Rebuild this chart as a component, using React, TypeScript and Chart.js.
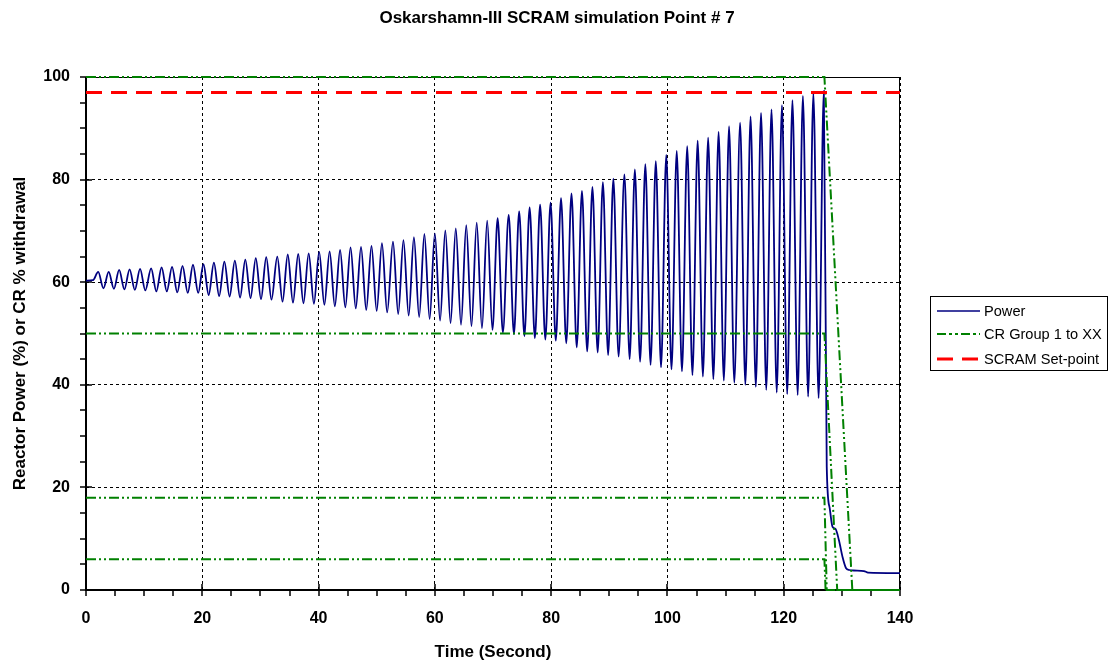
import React, { useEffect, useRef } from "react";
import { Chart, registerables } from "chart.js";

Chart.register(...registerables);

// ---- Power (%) ----
const startTimes = [0, 1.2];
const startValues = [60.3, 60.4];

const peakTimes = [
  2.1, 3.9, 5.7, 7.5, 9.3, 11.2, 13.0, 14.8, 16.6, 18.4, 20.2, 22.0, 23.8, 25.6, 27.4, 29.2, 31.0, 32.9, 34.7, 36.5,
  38.3, 40.1, 41.9, 43.7, 45.5, 47.3, 49.1, 50.9, 52.8, 54.6, 56.4, 58.2, 60.0, 61.8, 63.6, 65.4, 67.2, 69.0, 70.8, 72.7,
  74.5, 76.3, 78.1, 79.9, 81.7, 83.5, 85.3, 87.1, 88.9, 90.7, 92.6, 94.4, 96.2, 98.0, 99.8, 101.6, 103.4, 105.2, 107.0, 108.8,
  110.6, 112.5, 114.3, 116.1, 117.9, 119.7, 121.5, 123.3, 125.1, 126.9,
];
const peakValues = [
  62.0, 62.0, 62.4, 62.5, 62.6, 62.7, 62.9, 63.0, 63.2, 63.4, 63.5, 63.8, 64.0, 64.2, 64.4, 64.7, 64.9, 65.0, 65.4, 65.5,
  65.6, 65.9, 66.0, 66.3, 66.8, 66.9, 67.1, 67.6, 67.9, 68.2, 68.8, 69.4, 69.5, 70.1, 70.5, 71.1, 71.6, 72.0, 72.5, 73.1,
  73.8, 74.6, 75.1, 75.5, 76.4, 77.3, 77.8, 78.6, 79.5, 80.2, 81.0, 82.0, 83.0, 83.6, 84.8, 85.6, 86.5, 87.6, 88.2, 89.3,
  90.4, 91.1, 92.3, 93.0, 93.7, 94.5, 95.5, 96.3, 96.8, 97.3,
];

const troughTimes = [
  3.0, 4.8, 6.6, 8.4, 10.2, 12.1, 13.9, 15.7, 17.5, 19.3, 21.1, 22.9, 24.7, 26.5, 28.3, 30.1, 31.9, 33.8, 35.6, 37.4,
  39.2, 41.0, 42.8, 44.6, 46.4, 48.2, 50.0, 51.8, 53.7, 55.5, 57.3, 59.1, 60.9, 62.7, 64.5, 66.3, 68.1, 69.9, 71.7, 73.6,
  75.4, 77.2, 79.0, 80.8, 82.6, 84.4, 86.2, 88.0, 89.8, 91.6, 93.5, 95.3, 97.1, 98.9, 100.7, 102.5, 104.3, 106.1, 107.9, 109.7,
  111.5, 113.4, 115.2, 117.0, 118.8, 120.6, 122.4, 124.2, 126.0,
];
const troughValues = [
  58.8, 58.7, 58.6, 58.5, 58.4, 58.2, 58.2, 58.0, 57.9, 57.9, 57.5, 57.3, 57.2, 57.0, 56.9, 56.7, 56.6, 56.2, 56.0, 55.9,
  55.8, 55.6, 55.3, 55.1, 54.9, 54.6, 54.4, 54.1, 53.8, 53.5, 53.2, 52.8, 52.5, 52.0, 51.7, 51.4, 51.0, 50.7, 50.2, 49.9,
  49.5, 49.1, 48.8, 48.6, 48.1, 47.3, 46.5, 46.3, 45.8, 45.5, 45.0, 44.5, 43.9, 43.4, 43.0, 42.6, 41.9, 41.6, 41.1, 40.8,
  40.4, 40.0, 39.6, 39.0, 38.5, 38.2, 38.0, 37.7, 37.4,
];

const scramDropTimes = [127.4, 127.9, 128.4, 128.9, 129.5, 130.1, 130.7, 131.3, 132.0, 133.8, 134.5, 140];
const scramDropValues = [24, 16, 12.3, 11.9, 9.7, 6.5, 4.3, 3.9, 3.8, 3.7, 3.4, 3.3];

// ---- Control rod groups (% withdrawal) ----
const crGroupATimes = [0, 127.0, 131.8, 140];
const crGroupAValues = [100, 100, 0, 0];
const crGroupBTimes = [0, 127.0, 129.2, 140];
const crGroupBValues = [50, 50, 0, 0];
const crGroupCTimes = [0, 127.0, 127.4, 140];
const crGroupCValues = [18, 18, 0, 0];
const crGroupDTimes = [0, 127.0, 127.2, 140];
const crGroupDValues = [6, 6, 0, 0];

// ---- SCRAM set-point ----
const setpointTimes = [0, 140];
const setpointValues = [97, 97];

const chartTitle = "Oskarshamn-III SCRAM simulation Point # 7";
const legendLabels = ["Power", "CR Group 1 to XX", "SCRAM Set-point"];

const FONT = "Arial, 'Liberation Sans', Helvetica, sans-serif";
const GREEN_DASH = [10, 3, 2, 3, 2, 3];
const RED_DASH = [16, 9];

const pts = (ts: number[], vs: number[]) => ts.map((t, i) => ({ x: t, y: vs[i] }));

const framePlugin: any = {
  id: "framePlugin",
  beforeDatasetsDraw(chart: any) {
    const { ctx, chartArea: a, scales } = chart;
    const xs = scales.x;
    const ys = scales.y;
    ctx.save();
    ctx.setLineDash([]);
    ctx.strokeStyle = "#000";
    ctx.lineWidth = 1;
    ctx.strokeRect(a.left + 0.5, a.top + 0.5, a.right - a.left - 1, a.bottom - a.top - 1);
    ctx.lineWidth = 2;
    ctx.beginPath();
    ctx.moveTo(a.left, a.top);
    ctx.lineTo(a.left, a.bottom + 1);
    ctx.moveTo(a.left - 1, a.bottom);
    ctx.lineTo(a.right, a.bottom);
    ctx.stroke();
    ctx.lineWidth = 1.5;
    ctx.beginPath();
    for (let v = 0; v <= 140; v += 5) {
      const px = Math.round(xs.getPixelForValue(v));
      const major = v % 20 === 0;
      ctx.moveTo(px, major ? a.bottom - 6 : a.bottom);
      ctx.lineTo(px, a.bottom + 6);
    }
    for (let v = 0; v <= 100; v += 5) {
      const py = Math.round(ys.getPixelForValue(v));
      const major = v % 20 === 0;
      ctx.moveTo(major ? a.left + 6 : a.left, py);
      ctx.lineTo(a.left - 6, py);
    }
    ctx.stroke();
    ctx.restore();
  },
  afterDraw(chart: any) {
    const { ctx } = chart;
    ctx.save();
    // title, centred on the whole canvas
    ctx.fillStyle = "#000";
    ctx.font = `bold 17px ${FONT}`;
    ctx.textAlign = "center";
    ctx.textBaseline = "middle";
    ctx.fillText(chartTitle, 557, 18);

    const bx = 930, by = 296, bw = 177, bh = 74;
    ctx.fillStyle = "#fff";
    ctx.fillRect(bx, by, bw, bh);
    ctx.strokeStyle = "#000";
    ctx.lineWidth = 1;
    ctx.setLineDash([]);
    ctx.strokeRect(bx + 0.5, by + 0.5, bw, bh);
    const rows = [311, 334, 359];
    const styles = [
      { c: "#000080", w: 1.5, d: [] as number[] },
      { c: "#008000", w: 2, d: [9, 3, 3, 3, 3, 3] },
      { c: "#FF0000", w: 3, d: RED_DASH },
    ];
    for (let i = 0; i < 3; i++) {
      const s = styles[i];
      ctx.strokeStyle = s.c;
      ctx.lineWidth = s.w;
      ctx.setLineDash(s.d);
      ctx.beginPath();
      ctx.moveTo(937, rows[i]);
      ctx.lineTo(980, rows[i]);
      ctx.stroke();
      ctx.setLineDash([]);
      ctx.fillStyle = "#000";
      ctx.font = `14.6px ${FONT}`;
      ctx.textBaseline = "middle";
      ctx.textAlign = "left";
      ctx.fillText(legendLabels[i], 984, rows[i] + 1);
    }
    ctx.restore();
  },
};

export default function App() {
  const ref = useRef<HTMLCanvasElement | null>(null);
  useEffect(() => {
    if (!ref.current) return;
    const powerPoints = [
      ...pts(startTimes, startValues),
      ...pts(peakTimes, peakValues),
      ...pts(troughTimes, troughValues),
      ...pts(scramDropTimes, scramDropValues),
    ].sort((a, b) => a.x - b.x);

    const crStyle = {
      borderColor: "#008000",
      borderWidth: 2,
      borderDash: GREEN_DASH,
      pointRadius: 0,
      tension: 0,
      fill: false,
      clip: false as any,
    };

    const chart = new Chart(ref.current, {
      type: "line",
      data: {
        datasets: [
          {
            label: "SCRAM Set-point",
            data: pts(setpointTimes, setpointValues),
            borderColor: "#FF0000",
            borderWidth: 3,
            borderDash: RED_DASH,
            pointRadius: 0,
            fill: false,
          },
          { label: "CR Group 1 to XX", data: pts(crGroupATimes, crGroupAValues), ...crStyle },
          { label: "CR B", data: pts(crGroupBTimes, crGroupBValues), ...crStyle },
          { label: "CR C", data: pts(crGroupCTimes, crGroupCValues), ...crStyle },
          { label: "CR D", data: pts(crGroupDTimes, crGroupDValues), ...crStyle },
          {
            label: "Power",
            data: powerPoints,
            borderColor: "#000080",
            borderWidth: 1.8,
            pointRadius: 0,
            cubicInterpolationMode: "monotone",
            fill: false,
          },
        ] as any,
      },
      options: {
        responsive: false,
        animation: false,
        events: [],
        layout: { padding: { left: 0, right: 214, top: 77, bottom: 0 } },
        plugins: {
          legend: { display: false },
          tooltip: { enabled: false },
          title: { display: false },
        },
        scales: {
          x: {
            type: "linear",
            min: 0,
            max: 140,
            ticks: { stepSize: 20, color: "#000", font: { family: FONT, size: 16, weight: "bold" }, padding: 19, maxRotation: 0 },
            grid: { color: "#000", lineWidth: 1, drawTicks: false },
            border: { display: false, dash: [3, 3] },
            title: {
              display: true,
              text: "Time (Second)",
              color: "#000",
              font: { family: FONT, size: 17, weight: "bold" },
              padding: { top: 0, bottom: 5 },
            },
            afterFit: (s: any) => {
              s.height = 78;
            },
          },
          y: {
            type: "linear",
            min: 0,
            max: 100,
            ticks: { stepSize: 20, color: "#000", font: { family: FONT, size: 16, weight: "bold" }, padding: 16 },
            grid: { color: "#000", lineWidth: 1, drawTicks: false },
            border: { display: false, dash: [3, 3] },
            title: {
              display: true,
              text: "Reactor Power (%) or CR % withdrawal",
              color: "#000",
              font: { family: FONT, size: 17, weight: "bold" },
              padding: { top: 10, bottom: 0 },
            },
            afterFit: (s: any) => {
              s.width = 86;
            },
          },
        },
      } as any,
      plugins: [framePlugin],
    });
    return () => chart.destroy();
  }, []);

  return (
    <div style={{ position: "absolute", left: 0, top: 0, width: 1114, height: 668, background: "#fff" }}>
      <canvas ref={ref} width={1114} height={668} style={{ display: "block" }} />
    </div>
  );
}
